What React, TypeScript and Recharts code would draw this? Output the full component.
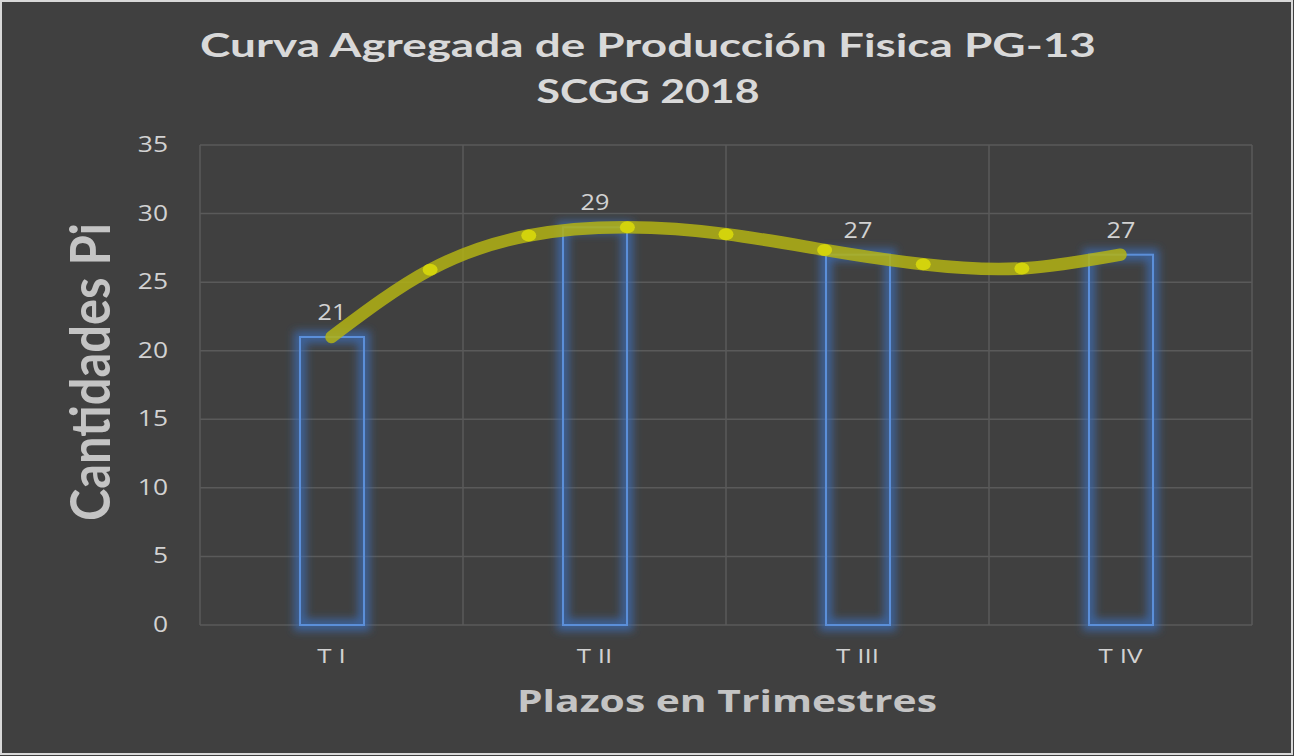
import React from "react";
import {
  ComposedChart, Bar, Line, XAxis, YAxis, CartesianGrid, ReferenceLine, LabelList,
} from "recharts";

// values
const quarters = ["T I", "T II", "T III", "T IV"];
const cantidades = [21, 29, 27, 27];
const yTicks = [0, 5, 10, 15, 20, 25, 30, 35];
// smoothed curve points (category units, centres at 1..4)
const curveX = [1, 1.375, 1.75, 2.125, 2.5, 2.875, 3.25, 3.625, 4];
const curveY = [21, 25.9, 28.4, 29.0, 28.5, 27.35, 26.3, 26.0, 27];
const bandEdges = [0.5, 1.5, 2.5, 3.5, 4.5];

const barData = quarters.map((q, i) => ({ q, v: cantidades[i] }));
const curveData = curveX.map((x, i) => ({ x, y: curveY[i] }));

const W = 1294, H = 756;
const BG = "#404040";
const GRID = "#5a5a5a";
const TXT = "#d2d2d2";
const FONT = "'Open Sans', 'DejaVu Sans', sans-serif";

const YTick = (p: any) => (
  <g transform={`translate(${p.x},${p.y})`}>
    <text transform="scale(1.2,1)" textAnchor="end" dy={7} fill={TXT} fontSize={22} fontFamily={FONT}>
      {p.payload.value}
    </text>
  </g>
);

const XTick = (p: any) => (
  <g transform={`translate(${p.x},${p.y})`}>
    <text transform="scale(1.3,1)" textAnchor="middle" dy={38} fill={TXT} fontSize={20} fontFamily={FONT}>
      {p.payload.value}
    </text>
  </g>
);

const BarBox = (p: any) => {
  const { x, y, width, height } = p;
  return (
    <g>
      <rect x={x} y={y} width={width} height={height} fill="none"
        stroke="#3a6fbd" strokeWidth={12} strokeOpacity={0.7} filter="url(#glow)" />
      <rect x={x} y={y} width={width} height={height} fill="none" stroke="#5b8fd9" strokeWidth={2} />
    </g>
  );
};

const BarValue = (p: any) => (
  <g transform={`translate(${p.x + p.width / 2},${p.y - 17})`}>
    <text transform="scale(1.2,1)" textAnchor="middle" fill={TXT} fontSize={21} fontFamily={FONT}>
      {p.value}
    </text>
  </g>
);

const CurveDot = (p: any) => {
  if (p.index === 0 || p.index === curveData.length - 1) return <g key={p.index} />;
  return <ellipse key={p.index} cx={p.cx} cy={p.cy} rx={7.5} ry={6} fill="#d3d30c" />;
};

export default function App() {
  return (
    <div style={{ position: "absolute", left: 0, top: 0, width: W, height: H, background: BG }}>
      <ComposedChart width={W} height={H} data={barData}
        margin={{ top: 145, right: 42, bottom: 71, left: 140 }}>
        <defs>
          <filter id="glow" x="-50%" y="-50%" width="200%" height="200%">
            <feGaussianBlur stdDeviation="4.5" />
          </filter>
        </defs>
        <CartesianGrid vertical={false} stroke={GRID} strokeWidth={1.5} />
        <XAxis xAxisId="cat" dataKey="q" axisLine={false} tickLine={false} tickSize={0} tickMargin={0}
          height={60} tick={<XTick />} interval={0} />
        <XAxis xAxisId="num" type="number" dataKey="x" domain={[0.5, 4.5]} hide allowDataOverflow />
        <YAxis domain={[0, 35]} ticks={yTicks} axisLine={false} tickLine={false} tickSize={0}
          tickMargin={32} width={60} tick={<YTick />} interval={0} />
        {bandEdges.map(b => (
          <ReferenceLine key={b} xAxisId="num" x={b} stroke={GRID} strokeWidth={1.5} />
        ))}
        <Bar xAxisId="cat" dataKey="v" barSize={64} shape={<BarBox />} isAnimationActive={false}>
          <LabelList dataKey="v" content={<BarValue />} />
        </Bar>
        <Line xAxisId="num" data={curveData} dataKey="y" type="natural"
          stroke="#b3b314" strokeOpacity={0.85} strokeWidth={12.5} strokeLinecap="round"
          dot={CurveDot} activeDot={false} isAnimationActive={false} />
      </ComposedChart>
      <svg width={W} height={H} style={{ position: "absolute", left: 0, top: 0, pointerEvents: "none" }}>
        <text x={648} y={57} textAnchor="middle" fontFamily="Lato, sans-serif" fontWeight={700}
          fontSize={32} fill="#d9d9d9" textLength={896} lengthAdjust="spacingAndGlyphs">
          Curva Agregada de Producción Fisica PG-13
        </text>
        <text x={648} y={103} textAnchor="middle" fontFamily="Lato, sans-serif" fontWeight={700}
          fontSize={32} fill="#d9d9d9" textLength={223} lengthAdjust="spacingAndGlyphs">
          SCGG 2018
        </text>
        <text transform="translate(110,372) rotate(-90)" textAnchor="middle" fontFamily="Lato, sans-serif"
          fontWeight={700} fontSize={56} fill="#c4c4c4" textLength={298} lengthAdjust="spacingAndGlyphs">
          Cantidades Pi
        </text>
        <text x={727} y={712} textAnchor="middle" fontFamily={FONT} fontWeight={700}
          fontSize={31} fill="#c4c4c4" textLength={420} lengthAdjust="spacingAndGlyphs">
          Plazos en Trimestres
        </text>
        <rect x={1} y={1} width={W - 3} height={H - 3} fill="none" stroke="#d9d9d9" strokeWidth={2} />
      </svg>
    </div>
  );
}
